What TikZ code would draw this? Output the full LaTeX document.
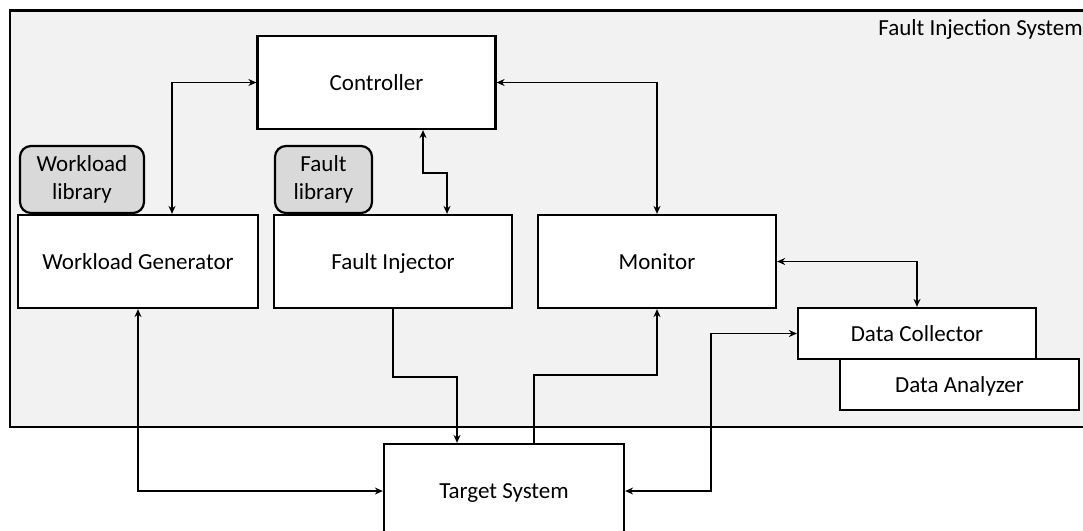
\documentclass[tikz,border=0pt]{standalone}
\usepackage{fontspec}
\setmainfont{Carlito}
\usepackage{tikz}
\usetikzlibrary{arrows.meta}
\usetikzlibrary{positioning}
\definecolor{fisgray}{RGB}{242,242,242}
\definecolor{libgray}{RGB}{217,217,217}
\tikzset{
  blk/.style = {align=center, inner sep=0pt, text centered,
    font=\fontsize{23}{28}\selectfont},
  fis_b/.style = {blk, rectangle, draw=black, fill=white, line width=2.2pt,
    minimum width=238pt, minimum height=93pt,
    text height=16pt, text depth=1pt},% bloc blanc
  fis_l/.style = {blk, rectangle, rounded corners=11pt, draw=black,
    fill=libgray, line width=2.2pt, minimum height=67pt},% bibliotheque
  fis_a/.style = {line width=1.8pt}% liaison
}

\begin{document}
\begin{tikzpicture}[x=1pt,y=-1pt,>={Stealth[length=8pt,width=7pt]}]
\useasboundingbox (0,0) rectangle (1083,530);
\draw[fill=fisgray, line width=2.2pt] (10,10.5) rectangle (1100,427);
\node[blk, anchor=east] (fisname) at (1083,29) {Fault Injection System};

\node[fis_b] (ctrl) at (376.5,82.5) {Controller};
\node[fis_l, minimum width=124pt] (wlib) at (82,179.5) {Workload\\library};
\node[fis_l, minimum width=97pt] (flib) at (323.5,179.5) {Fault\\library};
\node[fis_b, minimum width=240pt] (wg) at (138,261.5) {Workload Generator};
\node[fis_b] (fi) at (393,261.5) {Fault Injector};
\node[fis_b] (mon) at (657,261.5) {Monitor};
\node[fis_b, minimum width=239pt, minimum height=51pt] (da) at (959.5,384.5) {Data Analyzer};
\node[fis_b, minimum height=51pt] (dc) at (917,333.5) {Data Collector};
\node[fis_b, minimum width=240pt, minimum height=94pt] (ts) at (504,491) {Target System};

\draw[<->, fis_a] ([xshift=34pt]wg.north) |- (ctrl.west);
\draw[<->, fis_a] (ctrl.east) -| (mon.north);
\draw[<->, fis_a] ([xshift=46.5pt]ctrl.south) -- ++(0,43) -| ([xshift=54pt]fi.north);
\draw[<->, fis_a] (mon.east) -| (dc.north);
\draw[<->, fis_a] (wg.south) |- (ts.west);
\draw[->, fis_a] (fi.south) -- ++(0,68) -| ([xshift=-47pt]ts.north);
\draw[->, fis_a] ([xshift=30pt]ts.north) -- ++(0,-68) -| (mon.south);
\draw[<->, fis_a] (ts.east) -- ++(86,0) |- (dc.west);
\end{tikzpicture}
\end{document}
